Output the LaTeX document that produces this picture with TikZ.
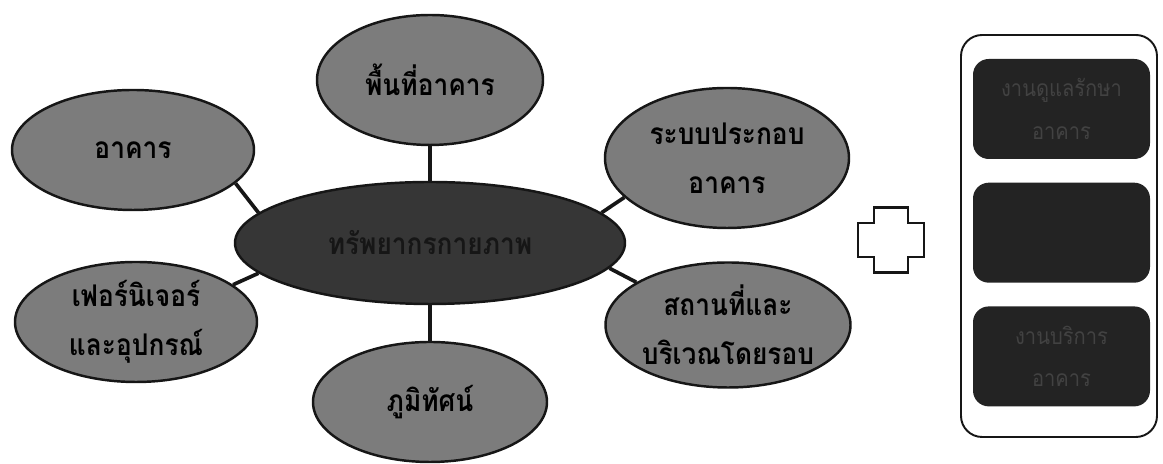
\documentclass[tikz,border=0pt]{standalone}
\usepackage{fontspec}
\newfontfamily\thaifont[Script=Thai,FakeStretch=0.88]{Loma}
\usetikzlibrary{shapes.geometric,positioning}
\definecolor{prInk}{HTML}{161616}
\definecolor{prLeaf}{HTML}{7C7C7C}
\definecolor{prHub}{HTML}{363636}
\definecolor{prTask}{HTML}{232323}
\definecolor{prFaint}{HTML}{424242}
\tikzset{
  % Gray ellipse (one physical resource)
  leaf/.style={ellipse,minimum width=4.84cm,minimum height=2.4cm,
    draw=prInk,line width=1.4pt,fill=prLeaf,inner sep=0pt,
    align=center,text=black,
    font=\thaifont\bfseries\fontsize{17}{28}\selectfont},
  % Dark centre ellipse
  hub/.style={ellipse,minimum width=7.8cm,minimum height=2.44cm,
    draw=prInk,line width=1.4pt,fill=prHub,inner sep=0pt,
    align=center,text=prInk,
    font=\thaifont\bfseries\fontsize{17}{28}\selectfont},
  % Dark task box (right column)
  tbox/.style={rectangle,rounded corners=9pt,
    minimum width=3.54cm,minimum height=2.0cm,
    fill=prTask,align=center,text=prFaint,
    font=\thaifont\fontsize{13}{24}\selectfont},
  % White frame round the task boxes
  frame/.style={rectangle,rounded corners=12pt,
    minimum width=3.92cm,minimum height=8.04cm,
    draw=prInk,line width=1.1pt},
  link/.style={draw=prInk,line width=2.1pt},
}
\begin{document}
\begin{tikzpicture}
  \useasboundingbox (0,0) rectangle (23.26,9.28);

  % Centre
  \node[hub] (phys) at (8.6,4.42) {ทรัพยากรกายภาพ};

  % Resources round the centre
  \node[leaf,minimum width=4.52cm,minimum height=2.6cm] (area) at (8.6,7.68)
    {พื้นที่อาคาร};
  \node[leaf] (bldg) at (2.66,6.28) {อาคาร};
  \node[leaf,minimum width=4.88cm,minimum height=2.8cm] (sys) at (14.54,6.12)
    {ระบบประกอบ\\อาคาร};
  \node[leaf,minimum width=4.84cm] (furn) at (2.72,2.84)
    {เฟอร์นิเจอร์\\และอุปกรณ์};
  \node[leaf,minimum width=4.9cm,minimum height=2.5cm] (site) at (14.56,2.78)
    {สถานที่และ\\บริเวณโดยรอบ};
  \node[leaf,minimum width=4.68cm] (land) at (8.6,1.24) {ภูมิทัศน์};

  % Spokes
  \draw[link] (phys) -- (area);
  \draw[link] (bldg.-18) -- (phys.170);
  \draw[link] (sys.201) -- (phys.10);
  \draw[link] (furn.21) -- (phys.190);
  \draw[link] (site.155) -- (phys.-8);
  \draw[link] (phys) -- (land);

  % Plus sign
  \coordinate (plus) at (17.82,4.48);
  \draw[line width=1.3pt,draw=prInk,shift={(plus)}]
    (-0.34,0.65) -- (0.34,0.65) -- (0.34,0.34) -- (0.66,0.34)
    -- (0.66,-0.34) -- (0.34,-0.34) -- (0.34,-0.65) -- (-0.34,-0.65)
    -- (-0.34,-0.34) -- (-0.66,-0.34) -- (-0.66,0.34) -- (-0.34,0.34)
    -- cycle;

  % Task column
  \node[frame] (col) at (21.18,4.56) {};
  \node[tbox] (t1) at (21.23,7.1) {งานดูแลรักษา\\อาคาร};
  \node[tbox,below=0.46cm of t1] (t2) {};
  \node[tbox,below=0.46cm of t2] (t3) {งานบริการ\\อาคาร};
\end{tikzpicture}
\end{document}
